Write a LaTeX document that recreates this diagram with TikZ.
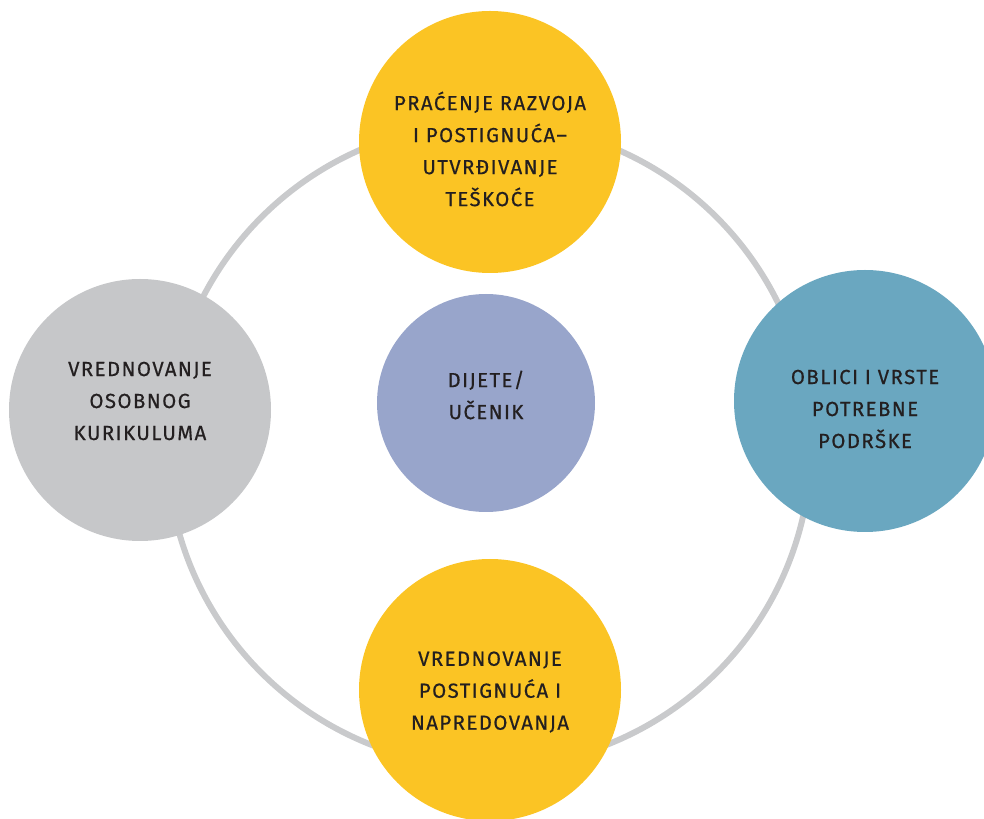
\documentclass[tikz,border=0pt]{standalone}
\usepackage{fontspec}
\setmainfont{Fira Sans}[LetterSpace=7, FakeBold=0.5]
\definecolor{sunYellow}{HTML}{FBC424}
\definecolor{stoneGrey}{HTML}{C6C7C9}
\definecolor{seaBlue}{HTML}{6AA7C0}
\definecolor{lilac}{HTML}{98A5CB}
\definecolor{ringGrey}{HTML}{C9CACC}
\definecolor{inkDark}{HTML}{231F20}

\begin{document}
\begin{tikzpicture}[
    % ~~~ the grey ring behind everything ~~~~~~~
    ringline/.style={draw=ringGrey, line width=3.4pt},
    % ~~~ the coloured discs ~~~~~~~~~~~~~~~~~~~~
    disc/.style={circle, inner sep=0pt, minimum size=5.24cm},
    smalldisc/.style={disc, minimum size=4.36cm},
    % ~~~ the text sitting in a disc ~~~~~~~~~~~~
    lbl/.style={
        inner sep=0pt, text=inkDark, align=center,
        font=\fontsize{11.6}{18.2}\selectfont
    },
 ]
    \useasboundingbox (0,0) rectangle (19.68,16.36);
    \clip (0,0) rectangle (19.68,16.36);
    % ~~~ ring ~~~~~~~~~~~~~~~~~~~~~~~~~~~~~~~~~~
    \coordinate (hub) at (9.78,7.46);
    \draw[ringline] (hub) circle (6.44);
    % ~~~ discs on the ring ~~~~~~~~~~~~~~~~~~~~~
    \node[disc, fill=sunYellow] (pracenje)   at (9.80,13.52) {};
    \node[disc, fill=seaBlue]   (oblici)     at (17.30,8.34) {};
    \node[disc, fill=sunYellow] (postignuca) at (9.80,2.56)  {};
    \node[disc, fill=stoneGrey] (osobni)     at (2.80,8.16)  {};
    % ~~~ the child in the middle ~~~~~~~~~~~~~~~
    \node[smalldisc, fill=lilac] (dijete) at (9.72,8.30) {};
    % ~~~ texts ~~~~~~~~~~~~~~~~~~~~~~~~~~~~~~~~~
    \node[lbl] (pracenjeT) at ([yshift=-0.14cm]pracenje.center)
        {PRAĆENJE RAZVOJA\\I POSTIGNUĆA–\\UTVRĐIVANJE\\TEŠKOĆE};
    \node[lbl] (obliciT) at ([yshift=-0.16cm]oblici.center)
        {OBLICI I VRSTE\\POTREBNE\\PODRŠKE};
    \node[lbl] (postignucaT) at ([yshift=-0.04cm]postignuca.center)
        {VREDNOVANJE\\POSTIGNUĆA I\\NAPREDOVANJA};
    \node[lbl] (osobniT) at ([yshift=0.18cm]osobni.center)
        {VREDNOVANJE\\OSOBNOG\\KURIKULUMA};
    \node[lbl] (dijeteT) at ([yshift=0.16cm]dijete.center)
        {DIJETE/\\UČENIK};
\end{tikzpicture}
\end{document}
